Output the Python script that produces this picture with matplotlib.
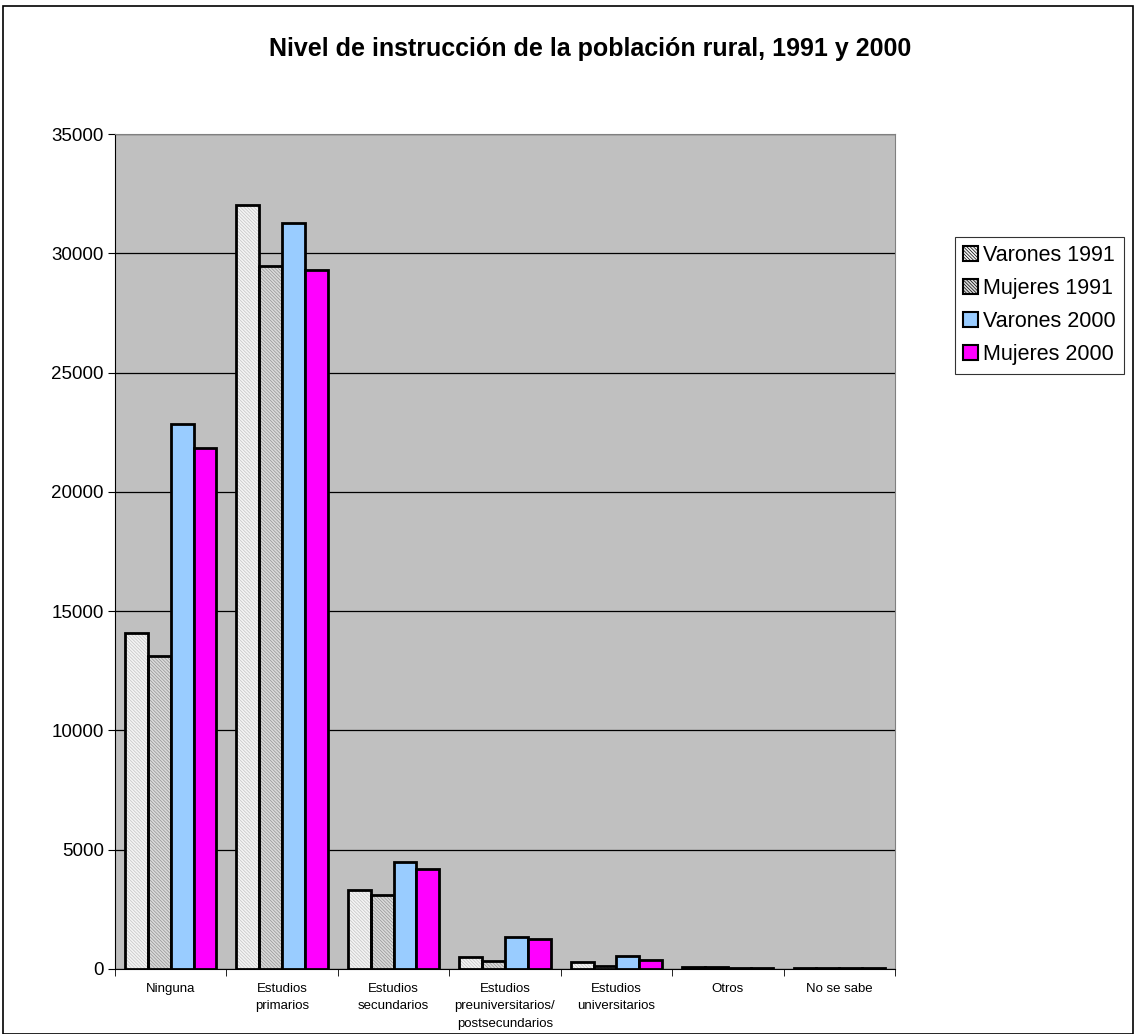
import numpy as np
import matplotlib.pyplot as plt
from matplotlib.patches import Rectangle

plt.rcParams['font.family'] = ['Liberation Sans', 'DejaVu Sans']
plt.rcParams['hatch.linewidth'] = 0.5

categorias = ["Ninguna", "Estudios\nprimarios", "Estudios\nsecundarios",
              "Estudios\npreuniversitarios/\npostsecundarios",
              "Estudios\nuniversitarios", "Otros", "No se sabe"]
series = ["Varones 1991", "Mujeres 1991", "Varones 2000", "Mujeres 2000"]

varones_1991 = [14080, 32020, 3310, 490, 290, 80, 60]
mujeres_1991 = [13120, 29470, 3100, 350, 130, 80, 20]
varones_2000 = [22840, 31270, 4480, 1340, 545, 30, 60]
mujeres_2000 = [21840, 29300, 4190, 1270, 380, 30, 40]

valores = [varones_1991, mujeres_1991, varones_2000, mujeres_2000]
rellenos = ["#f4f4f4", "#dadada", "#99ccff", "#ff00ff"]
tramas = ["\\" * 10, "\\" * 10, None, None]
color_trama = ["#c4c4c4", "#949494", None, None]

fig = plt.figure(figsize=(11.35, 10.34), dpi=100)
ax = fig.add_axes([0.1013, 0.0629, 0.6872, 0.8075])
ax.set_facecolor("#c0c0c0")

x = np.arange(len(categorias))
ancho = 0.205
for i, (vals, fc, h, hc) in enumerate(zip(valores, rellenos, tramas, color_trama)):
    pos = x + (i - 1.5) * ancho
    if h:
        ax.bar(pos, vals, ancho, color=fc, hatch=h, edgecolor=hc,
               linewidth=0, zorder=3)
    ax.bar(pos, vals, ancho, facecolor=fc if not h else "none",
           edgecolor="black", linewidth=2, zorder=4, label=series[i])

ax.set_xlim(-0.5, len(categorias) - 0.5)
ax.set_ylim(0, 35000)
ax.set_yticks(np.arange(0, 35001, 5000))
ax.tick_params(axis="y", labelsize=13.5, length=5, direction="out", pad=3)
ax.yaxis.grid(True, color="black", linewidth=0.9, zorder=1)
ax.set_axisbelow(True)

ax.set_xticks(x)
ax.set_xticklabels(categorias, fontsize=9.5, linespacing=1.6)
ax.tick_params(axis="x", length=0, pad=10)
ax.set_xticks(np.arange(-0.5, len(categorias)), minor=True)
ax.tick_params(axis="x", which="minor", length=5, direction="out")

ax.spines["left"].set_color("black")
ax.spines["bottom"].set_color("black")
ax.spines["top"].set_color("#808080")
ax.spines["right"].set_color("#808080")

fig.text(0.52, 0.953, "Nivel de instrucción de la población rural, 1991 y 2000",
         ha="center", va="center", fontsize=18, fontweight="bold")

# legend proxies with the same fill/outline combination
handles = []
for fc, h, hc in zip(rellenos, tramas, color_trama):
    handles.append(Rectangle((0, 0), 1, 1, facecolor=fc, hatch=h,
                             edgecolor="black", linewidth=1.5))
leg = fig.legend(handles, series, loc="upper left",
                 bbox_to_anchor=(0.841, 0.771), fontsize=15.5,
                 frameon=True, fancybox=False, handlelength=0.7,
                 handleheight=0.7, handletextpad=0.2, labelspacing=0.55,
                 borderpad=0.4, borderaxespad=0)
leg.get_frame().set_edgecolor("black")
leg.get_frame().set_linewidth(0.8)

fig.patches.append(Rectangle((0.003, 0), 0.995, 0.994, transform=fig.transFigure,
                             fill=False, edgecolor="black", linewidth=1.2))

fig.savefig("out.png", dpi=100)
